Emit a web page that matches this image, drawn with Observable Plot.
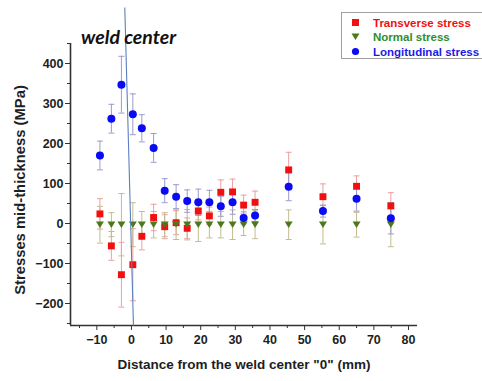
<!DOCTYPE html>
<html><head><meta charset="utf-8">
<script src="https://cdn.jsdelivr.net/npm/d3@7"></script>
<script src="https://cdn.jsdelivr.net/npm/@observablehq/plot@0.6"></script>
<style>
html,body{margin:0;padding:0;background:#fff;}
body{width:482px;height:381px;overflow:hidden;position:relative;font-family:"Liberation Sans",Arial,sans-serif;}
#chart{position:absolute;left:0;top:0;}
.lbl{position:absolute;font-weight:bold;color:#1e1e1e;white-space:nowrap;}
#xlabel{left:0;width:488px;text-align:center;top:357px;font-size:13.5px;}
#ylabel{left:20px;top:190px;font-size:14.8px;transform:translate(-50%,-50%) rotate(-90deg);}
#title{left:81px;top:25px;font-family:Lato,"Open Sans",sans-serif;font-style:italic;font-weight:bold;font-size:19.5px;color:#111;}
#legend{position:absolute;left:341px;top:12px;width:160px;height:47px;border:1px solid #a0a0a0;box-sizing:border-box;}
.item{position:absolute;left:0;height:14px;font-weight:bold;font-size:11.5px;line-height:14px;}
.item svg{position:absolute;left:9px;top:2px;}
.item span{position:absolute;left:31px;top:0;white-space:nowrap;}
</style></head>
<body>
<div id="chart"></div>
<div class="lbl" id="title">weld center</div>
<div class="lbl" id="xlabel">Distance from the weld center "0" (mm)</div>
<div class="lbl" id="ylabel">Stresses mid-thickness (MPa)</div>
<div id="legend"></div>
<script>
// Data
const positions = [-9.1, -5.8, -2.9, 0.4, 3.0, 6.4, 9.6, 12.9, 16.1, 19.3, 22.5, 25.8, 29.2, 32.4, 35.7, 45.4, 55.3, 65.0, 74.9];
const transverse    = [24, -56, -128, -103, -32, 15, -8, 2, -12, 31, 19, 78, 79, 46, 53, 134, 67, 93, 44];
const transverseErr = [38, 36, 81, 90, 34, 33, 30, 30, 26, 22, 22, 31, 32, 25, 28, 44, 32, 26, 33];
const normal        = [-3, -3, -3, -3, -3, -3, -3, -2, -3, -3, -3, -3, -3, -3, -3, -3, -3, -3, -3];
const normalErr     = [46, 30, 78, 55, 33, 33, 30, 38, 38, 42, 33, 33, 37, 27, 35, 37, 48, 31, 55];
const longitudinal    = [170, 262, 347, 273, 238, 189, 82, 67, 56, 53, 53, 43, 53, 14, 20, 92, 31, 62, 13];
const longitudinalErr = [36, 36, 71, 51, 34, 36, 30, 30, 28, 33, 30, 25, 30, 15, 15, 35, 15, 31, 39];
const seriesNames = ["Transverse stress", "Normal stress", "Longitudinal stress"];
const xTicks = [-10, 0, 10, 20, 30, 40, 50, 60, 70, 80];
const xMinorTicks = [-15, -5, 5, 15, 25, 35, 45, 55, 65, 75];
const yTicks = [-200, -100, 0, 100, 200, 300, 400];
const yMinorTicks = [-250, -150, -50, 50, 150, 250, 350, 450];
const weldLine = [{x1: -1.93, y1: 540, x2: 0.58, y2: -255}];

const xDomain = [-17.6, 82.6];
const yDomain = [-255, 450];

const colors = {
  red: "#f01010", redBar: "#eaa0a0",
  green: "#4b7a1c", greenBar: "#c2bc8e", greenText: "#2e8e2e",
  blue: "#0a0af5", blueBar: "#9a9ad0"
};

const rows = (vals, errs) => positions.map((x, i) => ({x, y: vals[i], e: errs[i]}));
const T = rows(transverse, transverseErr);
const N = rows(normal, normalErr);
const L = rows(longitudinal, longitudinalErr);

const cap = {draw(ctx) { ctx.moveTo(-3, 0); ctx.lineTo(3, 0); }};
const triDown = {draw(ctx, size) {
  const h = 6.5, w = 4;
  ctx.moveTo(-w, -h/2); ctx.lineTo(w, -h/2); ctx.lineTo(0, h/2); ctx.closePath();
}};

function errorBars(data, color) {
  return [
    Plot.ruleX(data, {x: "x", y1: d => d.y - d.e, y2: d => d.y + d.e, stroke: color, strokeWidth: 1}),
    Plot.dot(data, {x: "x", y: d => d.y + d.e, symbol: cap, stroke: color, strokeWidth: 1, r: 3}),
    Plot.dot(data, {x: "x", y: d => d.y - d.e, symbol: cap, stroke: color, strokeWidth: 1, r: 3})
  ];
}

const chart = Plot.plot({
  width: 482,
  height: 381,
  marginLeft: 70,
  marginRight: 65,
  marginTop: 43,
  marginBottom: 56,
  style: {fontFamily: "'Liberation Sans', Arial, sans-serif", fontWeight: "bold", color: "#1e1e1e", background: "transparent"},
  x: {domain: xDomain},
  y: {domain: yDomain},
  marks: [
    Plot.axisX({ticks: xMinorTicks, tickSize: 3, tickFormat: () => "", stroke: "#333", label: null}),
    Plot.axisX({ticks: xTicks, tickSize: 5, tickPadding: 5, fontSize: 12.5, stroke: "#333", label: null}),
    Plot.axisY({ticks: yMinorTicks, tickSize: 3, tickFormat: () => "", stroke: "#333", label: null}),
    Plot.axisY({ticks: yTicks, tickSize: 5, tickPadding: 2, fontSize: 12.5, stroke: "#333", label: null}),
    Plot.ruleY([yDomain[0]], {stroke: "#333", strokeWidth: 1.6}),
    Plot.ruleX([xDomain[0]], {stroke: "#333", strokeWidth: 1.6}),
    ...errorBars(T, colors.redBar),
    ...errorBars(N, colors.greenBar),
    ...errorBars(L, colors.blueBar),
    Plot.dot(T, {x: "x", y: "y", symbol: "square", r: 3.9, fill: colors.red}),
    Plot.dot(N, {x: "x", y: "y", symbol: triDown, r: 4, fill: colors.green}),
    Plot.dot(L, {x: "x", y: "y", symbol: "circle", r: 4, fill: colors.blue}),
    Plot.link(weldLine, {x1: "x1", y1: "y1", x2: "x2", y2: "y2", stroke: "#5b80c0", strokeWidth: 1.1})
  ]
});
document.getElementById("chart").appendChild(chart);

// Legend
const legend = document.getElementById("legend");
const legendItems = [
  {name: seriesNames[0], color: colors.red, text: colors.red, shape: '<rect x="1" y="1" width="7" height="7"/>'},
  {name: seriesNames[1], color: colors.green, text: colors.greenText, shape: '<path d="M0.5,1.5 L8.5,1.5 L4.5,8 Z"/>'},
  {name: seriesNames[2], color: colors.blue, text: "#1a1ae6", shape: '<circle cx="4.5" cy="4.5" r="3.6"/>'}
];
const rowTops = [3, 17, 32];
legendItems.forEach((it, i) => {
  const div = document.createElement("div");
  div.className = "item";
  div.style.top = rowTops[i] + "px";
  div.innerHTML = `<svg width="9" height="9" fill="${it.color}">${it.shape}</svg><span style="color:${it.text}">${it.name}</span>`;
  legend.appendChild(div);
});
</script>
</body></html>
